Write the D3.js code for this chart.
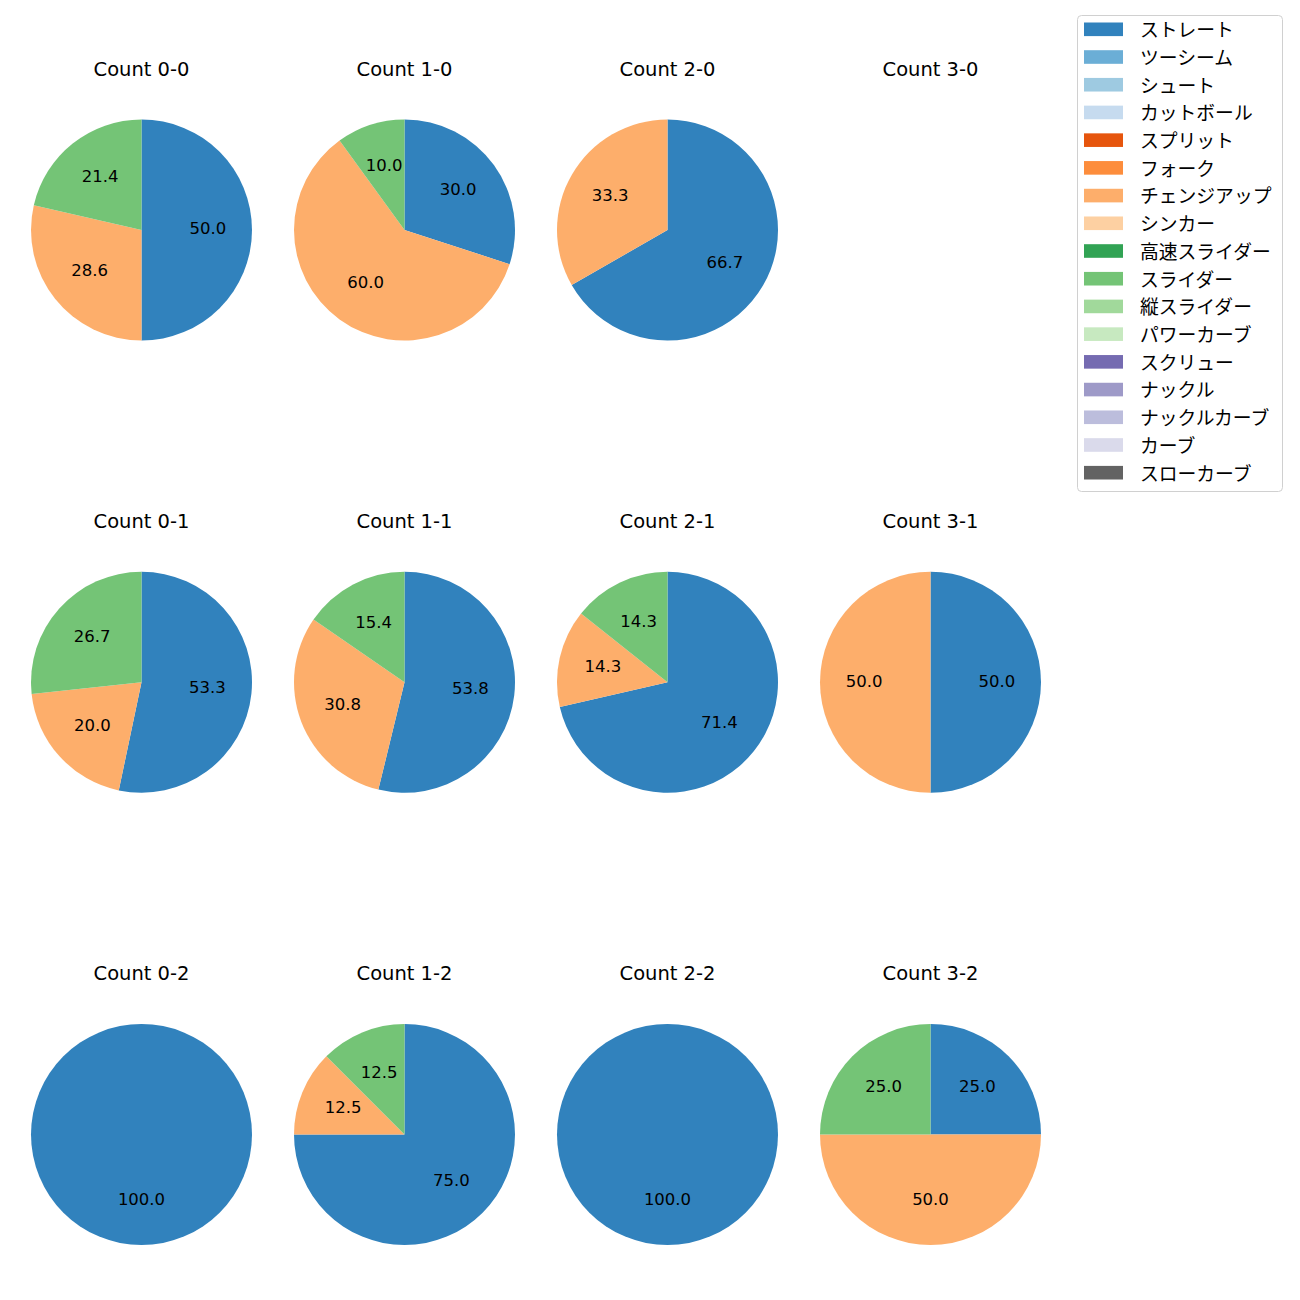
<!DOCTYPE html>
<html><head><meta charset="utf-8">
<script src="https://cdn.jsdelivr.net/npm/d3@7"></script>
<style>body{margin:0;background:#fff}</style>
</head><body>
<svg id="c" width="1300" height="1300"></svg>
<script>
const pitchTypes = ["ストレート","ツーシーム","シュート","カットボール","スプリット","フォーク","チェンジアップ","シンカー","高速スライダー","スライダー","縦スライダー","パワーカーブ","スクリュー","ナックル","ナックルカーブ","カーブ","スローカーブ"];
const pitchColors = ["#3182bd","#6baed6","#9ecae1","#c6dbef","#e6550d","#fd8d3c","#fdae6b","#fdd0a2","#31a354","#74c476","#a1d99b","#c7e9c0","#756bb1","#9e9ac8","#bcbddc","#dadaeb","#636363"];
const countTitles = ["Count 0-0","Count 1-0","Count 2-0","Count 3-0","Count 0-1","Count 1-1","Count 2-1","Count 3-1","Count 0-2","Count 1-2","Count 2-2","Count 3-2"];
// values for [ストレート, チェンジアップ, スライダー]
const shownTypes = ["ストレート","チェンジアップ","スライダー"];
const straightVals = [50.0,30.0,66.7,0, 53.3,53.8,71.4,50.0, 100.0,75.0,100.0,25.0];
const changeupVals = [28.6,60.0,33.3,0, 20.0,30.8,14.3,50.0, 0,12.5,0,50.0];
const sliderVals   = [21.4,10.0,0,0, 26.7,15.4,14.3,0, 0,12.5,0,25.0];

const svg = d3.select("#c");
const font = "'DejaVu Sans', 'Noto Sans CJK JP', sans-serif";
const jfont = "'Noto Sans CJK JP', sans-serif";
const color = d3.scaleOrdinal().domain(pitchTypes).range(pitchColors);
const colX = d3.scaleLinear().domain([0,3]).range([141.5, 930.5]);
const rowY = d3.scaleLinear().domain([0,2]).range([230, 1134.5]);
const R = 110.5;

const pie = d3.pie().sort(null).value(d=>d.v).startAngle(0).endAngle(2*Math.PI);
const arc = d3.arc().innerRadius(0).outerRadius(R);
const labelArc = d3.arc().innerRadius(R*0.6).outerRadius(R*0.6);

countTitles.forEach((t,i)=>{
  const col = i%4, row = Math.floor(i/4);
  const cx = colX(col), cy = rowY(row);
  const g = svg.append("g").attr("transform",`translate(${cx},${cy})`);
  g.append("text").attr("x",0).attr("y",-154.3).attr("text-anchor","middle")
   .attr("font-family",font).attr("font-size",19.5)
   .attr("fill","#000").text(t);
  const data = [
    {k:shownTypes[0], v:straightVals[i]},
    {k:shownTypes[1], v:changeupVals[i]},
    {k:shownTypes[2], v:sliderVals[i]}
  ].filter(d=>d.v>0);
  if(!data.length) return;
  const arcs = pie(data);
  g.selectAll("path").data(arcs).join("path").attr("d",arc).attr("fill",d=>color(d.data.k));
  g.selectAll("text.l").data(arcs).join("text").attr("class","l")
   .attr("transform",d=>{const c=labelArc.centroid(d);return `translate(${c[0]},${c[1]+4.3})`;})
   .attr("text-anchor","middle")
   .attr("font-family",font).attr("font-size",16.5).attr("fill","#000")
   .text(d=>d.data.v.toFixed(1));
});

// legend
const lg = svg.append("g");
lg.append("rect").attr("x",1077.5).attr("y",15.5).attr("width",205).attr("height",476)
  .attr("rx",4).attr("fill","#fff").attr("fill-opacity",0.8).attr("stroke","#d0d0d0").attr("stroke-width",1);
const ly = d3.scaleLinear().domain([0,16]).range([29.3,472.7]);
pitchTypes.forEach((p,i)=>{
  lg.append("rect").attr("x",1084).attr("y",ly(i)-6.8).attr("width",39).attr("height",13.6).attr("fill",color(p));
  lg.append("text").attr("x",1140).attr("y",ly(i)-0.7).attr("dominant-baseline","central")
    .attr("font-family",jfont).attr("font-size",18.8).attr("fill","#000").text(p);
});
</script>
</body></html>
